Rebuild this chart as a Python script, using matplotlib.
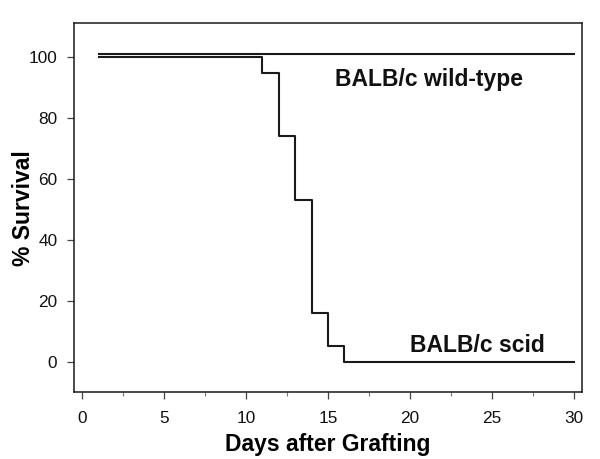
import matplotlib
matplotlib.use("Agg")
import matplotlib.pyplot as plt
from matplotlib.ticker import MultipleLocator

plt.rcParams['font.family'] = ['Liberation Sans', 'DejaVu Sans']

# Data
wt_days = [1, 30]
wt_survival = [101, 101]
scid_days = [1, 11, 12, 13, 14, 15, 16, 30]
scid_survival = [100, 95, 74, 53, 16, 5, 0, 0]
xticks = [0, 5, 10, 15, 20, 25, 30]
yticks = [0, 20, 40, 60, 80, 100]

fig = plt.figure(figsize=(6.0, 4.59), dpi=100)
ax = fig.add_axes([74/600, 1-392/459, (582-74)/600, (392-23.3)/459])

col = '#1a1a1a'
ax.step(wt_days, wt_survival, where='post', color=col, lw=1.5)
ax.step(scid_days, scid_survival, where='post', color=col, lw=1.5)

ax.set_xlim(-0.5, 30.5)
ax.set_ylim(-10, 111.2)
ax.set_xticks(xticks)
ax.set_yticks(yticks)
ax.xaxis.set_minor_locator(MultipleLocator(2.5))

for s in ax.spines.values():
    s.set_linewidth(1.1)
    s.set_color(col)

ax.tick_params(axis='both', which='major', length=5, width=0.9, color='#444444',
               labelsize=12.4, labelcolor='#111111')
ax.tick_params(axis='x', which='major', pad=8.5)
ax.tick_params(axis='y', which='major', pad=7)
ax.tick_params(axis='x', which='minor', length=3, width=0.8, color='#777777')

ax.set_xlabel('Days after Grafting', fontsize=16.5, fontweight='bold')
ax.set_ylabel('% Survival', fontsize=16.5, fontweight='bold')
ax.xaxis.set_label_coords(0.5, -0.112)
ax.yaxis.set_label_coords(-0.076, 0.5)

ax.text(15.45, 90.7, 'BALB/c wild-type', fontsize=16.5, fontweight='bold',
        ha='left', va='baseline', color='#111111')
ax.text(20.0, 3.1, 'BALB/c scid', fontsize=16.5, fontweight='bold',
        ha='left', va='baseline', color='#111111')

fig.savefig('out.png', dpi=100)
